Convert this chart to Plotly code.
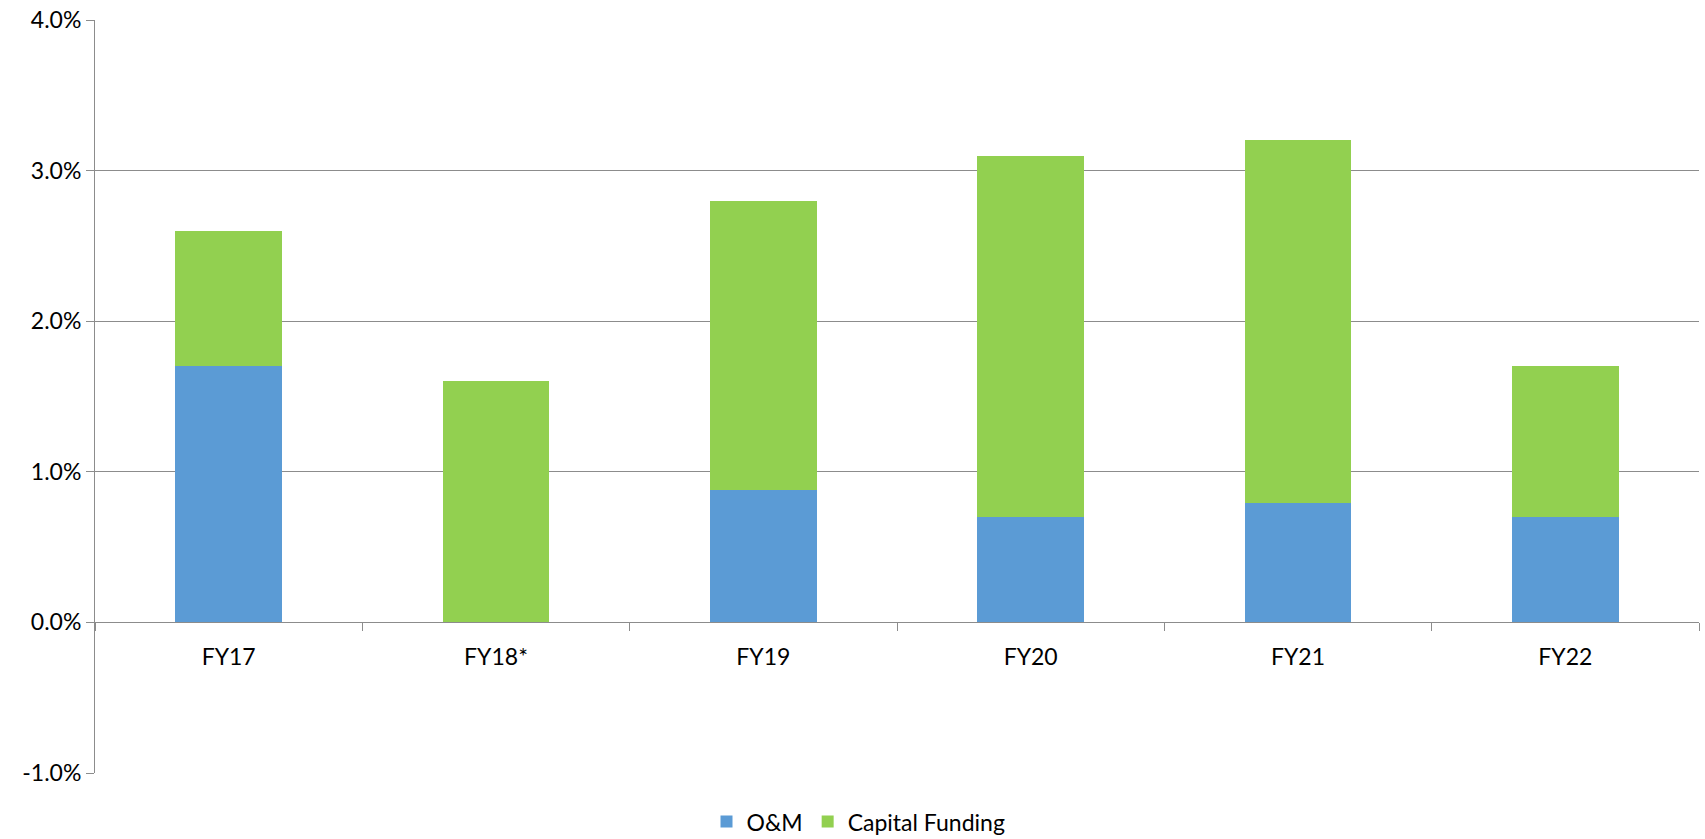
import plotly.graph_objects as go

# values (percent)
years = ["FY17", "FY18*", "FY19", "FY20", "FY21", "FY22"]
om = [1.7, 0.0, 0.88, 0.7, 0.79, 0.7]
capital = [0.9, 1.6, 1.92, 2.4, 2.41, 1.0]
tick_vals = [-1, 0, 1, 2, 3, 4]
tick_text = ["-1.0%", "0.0%", "1.0%", "2.0%", "3.0%", "4.0%"]

grid = "#8c8c8c"
font = dict(family="Lato, Open Sans, sans-serif", size=23, color="#000000")

fig = go.Figure()
fig.add_trace(go.Bar(x=years, y=om, name="O&M", marker=dict(color="#5B9BD5", line_width=0)))
fig.add_trace(go.Bar(x=years, y=capital, name="Capital Funding", marker=dict(color="#92D050", line_width=0)))

fig.update_layout(
    barmode="stack",
    bargap=0.6,
    width=1705,
    height=839,
    margin=dict(l=95, r=6, t=20, b=66, autoexpand=False),
    paper_bgcolor="white",
    plot_bgcolor="white",
    font=font,
    showlegend=True,
    legend=dict(orientation="h", traceorder="normal", x=0.476, xanchor="center",
                y=-0.036, yanchor="top", font=dict(size=23), itemwidth=30),
)

fig.update_yaxes(
    range=[-1, 4], tickvals=tick_vals, ticktext=tick_text,
    showgrid=True, gridcolor=grid, gridwidth=1,
    showline=True, linecolor=grid, linewidth=1,
    ticks="outside", ticklen=8, tickcolor=grid,
    zeroline=False, automargin=False,
)
fig.update_xaxes(
    anchor="free", position=0.2,
    showline=True, linecolor=grid, linewidth=1,
    ticks="outside", tickson="boundaries", ticklen=8, tickcolor=grid,
    ticklabelstandoff=14,
    showgrid=False, automargin=False,
)

# drop the page margin so the figure sits at the window's top-left corner
fig.write_html("out.html", config={"displayModeBar": False},
               post_script="document.body.style.margin='0';document.body.style.overflow='hidden';")
